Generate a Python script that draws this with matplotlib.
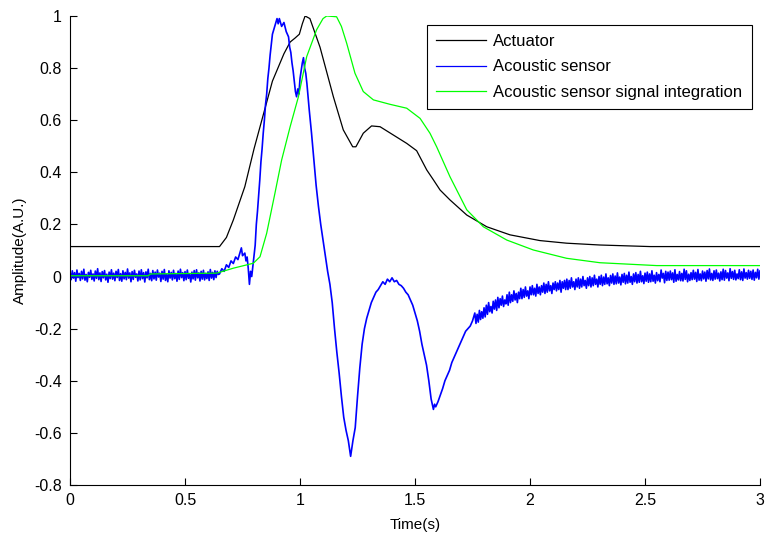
import numpy as np
import matplotlib
matplotlib.use("Agg")
import matplotlib.pyplot as plt
from matplotlib.ticker import FormatStrFormatter

plt.rcParams['font.family'] = ['Liberation Sans', 'DejaVu Sans']

# --- Actuator (black) ---
act_t = [0.0, 0.65, 0.68, 0.71, 0.76, 0.80, 0.84, 0.88, 0.93, 0.957, 0.978, 0.997,
         1.01, 1.022, 1.043, 1.087, 1.145, 1.188, 1.229, 1.243, 1.275, 1.311,
         1.348, 1.406, 1.464, 1.507, 1.551, 1.58, 1.609, 1.652, 1.725, 1.812,
         1.913, 2.043, 2.159, 2.304, 2.522, 3.0]
act_v = [0.115, 0.115, 0.15, 0.217, 0.345, 0.49, 0.62, 0.75, 0.855, 0.90, 0.915, 0.93,
         0.97, 1.0, 0.99, 0.88, 0.69, 0.563, 0.498, 0.498, 0.55, 0.578,
         0.575, 0.543, 0.511, 0.483, 0.409, 0.371, 0.332, 0.294, 0.236, 0.191,
         0.16, 0.138, 0.128, 0.121, 0.115, 0.115]

# --- Acoustic sensor signal integration (green) ---
int_t = [0.0, 0.34, 0.35, 0.638, 0.71, 0.797, 0.826, 0.855, 0.891, 0.92, 0.957,
         0.993, 1.029, 1.072, 1.10, 1.116, 1.159, 1.18, 1.203, 1.239, 1.275, 1.319,
         1.391, 1.464, 1.522, 1.565, 1.594, 1.652, 1.725, 1.797, 1.899, 2.014,
         2.159, 2.304, 2.551, 3.0]
int_v = [0.003, 0.003, 0.01, 0.013, 0.032, 0.051, 0.076, 0.166, 0.32, 0.447, 0.575,
         0.69, 0.844, 0.947, 0.99, 1.0, 0.997, 0.96, 0.895, 0.78, 0.71, 0.678,
         0.661, 0.646, 0.607, 0.55, 0.498, 0.383, 0.256, 0.191, 0.14, 0.102,
         0.07, 0.053, 0.042, 0.042]

# --- Acoustic sensor (blue) ---
# noisy baseline, sampled every 0.005 s from 0 to 0.645
sens_start = [0.018, -0.012, 0.022, -0.006, 0.015, -0.018, 0.025, -0.004, 0.012, -0.015,
              0.02, -0.009, 0.028, -0.014, 0.008, -0.02, 0.016, -0.003, 0.024, -0.011,
              0.01, -0.017, 0.021, -0.007, 0.03, -0.012, 0.014, -0.019, 0.019, -0.005,
              0.023, -0.013, 0.009, -0.022, 0.017, -0.008, 0.026, -0.01, 0.013, -0.016,
              0.02, -0.004, 0.027, -0.015, 0.011, -0.018, 0.022, -0.009, 0.016, -0.012,
              0.029, -0.006, 0.014, -0.02, 0.019, -0.011, 0.024, -0.003, 0.01, -0.017,
              0.021, -0.013, 0.026, -0.008, 0.015, -0.021, 0.018, -0.005, 0.028, -0.012,
              0.012, -0.016, 0.023, -0.009, 0.017, -0.014, 0.025, -0.002, 0.013, -0.019,
              0.02, -0.01, 0.027, -0.015, 0.009, -0.02, 0.022, -0.006, 0.016, -0.013,
              0.024, -0.008, 0.012, -0.018, 0.021, -0.011, 0.028, -0.004, 0.015, -0.016,
              0.019, -0.012, 0.025, -0.007, 0.011, -0.021, 0.017, -0.009, 0.023, -0.014,
              0.026, -0.005, 0.014, -0.017, 0.02, -0.01, 0.024, -0.013, 0.012, -0.008,
              0.018, -0.015, 0.027, -0.006, 0.016, -0.012, 0.022, -0.004, 0.02, 0.008]
# main pulse, read point by point
sens_mid_t = [0.65, 0.66, 0.67, 0.68, 0.69, 0.70, 0.71, 0.72, 0.73, 0.74, 0.745, 0.75,
              0.76, 0.765, 0.77, 0.775, 0.78, 0.785, 0.79, 0.80, 0.805, 0.81, 0.815,
              0.82, 0.825, 0.83, 0.835, 0.84, 0.845, 0.85, 0.855, 0.86, 0.865, 0.87,
              0.875, 0.88, 0.89, 0.90, 0.905, 0.91, 0.92, 0.93, 0.94, 0.95, 0.955,
              0.96, 0.965, 0.97, 0.975, 0.98, 0.985, 0.99, 0.995, 1.0, 1.005, 1.01,
              1.015, 1.02, 1.025, 1.03, 1.04, 1.05, 1.06, 1.07, 1.08, 1.09, 1.10,
              1.11, 1.12, 1.13, 1.14, 1.15, 1.16, 1.17, 1.18, 1.19, 1.20, 1.21,
              1.215, 1.22, 1.225, 1.23, 1.24, 1.25, 1.26, 1.27, 1.28, 1.29, 1.30,
              1.31, 1.32, 1.33, 1.34, 1.35, 1.36, 1.37, 1.38, 1.39, 1.40, 1.41,
              1.42, 1.43, 1.44, 1.45, 1.46, 1.47, 1.48, 1.49, 1.50, 1.51, 1.52,
              1.53, 1.54, 1.55, 1.56, 1.57, 1.575, 1.58, 1.585, 1.59, 1.60, 1.61,
              1.62, 1.63, 1.64, 1.65, 1.66, 1.67, 1.68, 1.69, 1.70, 1.71, 1.72,
              1.73, 1.74, 1.75]
sens_mid_v = [0.01, 0.03, 0.02, 0.045, 0.035, 0.06, 0.05, 0.075, 0.065, 0.095, 0.11, 0.08,
              0.09, 0.06, 0.075, 0.03, -0.03, 0.02, 0.0, 0.08, 0.12, 0.2, 0.25,
              0.31, 0.37, 0.44, 0.49, 0.55, 0.60, 0.66, 0.70, 0.76, 0.80, 0.85,
              0.89, 0.93, 0.96, 0.99, 0.97, 0.99, 0.96, 0.975, 0.94, 0.92, 0.88,
              0.86, 0.82, 0.79, 0.75, 0.71, 0.69, 0.72, 0.70, 0.76, 0.79, 0.82,
              0.84, 0.80, 0.78, 0.74, 0.64, 0.55, 0.45, 0.35, 0.27, 0.20, 0.14,
              0.08, 0.02, -0.03, -0.10, -0.20, -0.29, -0.37, -0.46, -0.54, -0.59, -0.63,
              -0.66, -0.69, -0.66, -0.63, -0.58, -0.46, -0.35, -0.26, -0.20, -0.16, -0.13,
              -0.10, -0.08, -0.06, -0.05, -0.035, -0.02, -0.03, -0.01, -0.02, -0.005, -0.02,
              -0.015, -0.03, -0.035, -0.045, -0.06, -0.07, -0.09, -0.11, -0.14, -0.17, -0.21,
              -0.26, -0.30, -0.34, -0.40, -0.47, -0.49, -0.51, -0.49, -0.50, -0.48, -0.455,
              -0.43, -0.40, -0.38, -0.36, -0.33, -0.31, -0.29, -0.27, -0.25, -0.23, -0.21,
              -0.20, -0.19, -0.17]
# noisy tail, sampled every 0.005 s from 1.76 on
sens_end = [-0.14, -0.18, -0.145, -0.175, -0.13, -0.165, -0.135, -0.16, -0.12, -0.155,
            -0.11, -0.145, -0.1, -0.135, -0.115, -0.14, -0.095, -0.125, -0.09, -0.13,
            -0.08, -0.12, -0.085, -0.11, -0.075, -0.115, -0.09, -0.105, -0.07, -0.11,
            -0.06, -0.1, -0.07, -0.095, -0.055, -0.09, -0.065, -0.1, -0.06, -0.085,
            -0.045, -0.085, -0.05, -0.08, -0.04, -0.075, -0.055, -0.085, -0.04, -0.07,
            -0.035, -0.07, -0.045, -0.075, -0.03, -0.065, -0.04, -0.07, -0.035, -0.06,
            -0.025, -0.065, -0.03, -0.06, -0.02, -0.055, -0.035, -0.065, -0.025, -0.05,
            -0.02, -0.055, -0.025, -0.05, -0.015, -0.06, -0.02, -0.045, -0.015, -0.05,
            -0.01, -0.05, -0.015, -0.045, -0.005, -0.04, -0.02, -0.05, -0.01, -0.04,
            -0.005, -0.045, -0.01, -0.04, 0.0, -0.035, -0.015, -0.045, -0.005, -0.035,
            0.0, -0.04, -0.005, -0.035, 0.005, -0.03, -0.01, -0.04, 0.0, -0.03,
            0.005, -0.035, -0.002, -0.03, 0.01, -0.028, -0.005, -0.035, 0.004, -0.025,
            0.01, -0.03, 0.002, -0.028, 0.014, -0.025, -0.002, -0.032, 0.008, -0.022,
            0.012, -0.028, 0.005, -0.025, 0.017, -0.022, 0.0, -0.03, 0.01, -0.02,
            0.015, -0.025, 0.008, -0.022, 0.02, -0.02, 0.003, -0.027, 0.013, -0.018,
            0.017, -0.022, 0.01, -0.02, 0.022, -0.018, 0.005, -0.025, 0.015, -0.016,
            0.008, -0.02, 0.025, -0.006, 0.012, -0.024, 0.02, -0.015, 0.017, -0.014,
            0.021, -0.012, 0.014, -0.022, 0.026, -0.018, 0.008, -0.013, 0.019, -0.016,
            0.012, -0.017, 0.028, -0.011, 0.022, -0.02, 0.009, -0.015, 0.015, -0.012,
            0.024, -0.01, 0.016, -0.019, 0.027, -0.014, 0.01, -0.016, 0.021, -0.009,
            0.017, -0.018, 0.023, -0.009, 0.029, -0.013, 0.012, -0.015, 0.022, -0.01,
            0.025, -0.008, 0.013, -0.017, 0.018, -0.012, 0.028, -0.014, 0.023, -0.006,
            0.014, -0.016, 0.03, -0.007, 0.019, -0.011, 0.024, -0.013, 0.01, -0.008,
            0.026, -0.012, 0.018, -0.015, 0.029, -0.006, 0.015, -0.01, 0.024, -0.007,
            0.02, -0.011, 0.025, -0.014, 0.016, -0.005, 0.028, -0.01, 0.023, 0.008]

sens_t = np.concatenate([np.arange(len(sens_start)) * 0.005,
                         sens_mid_t,
                         1.76 + np.arange(len(sens_end)) * 0.005])
sens_v = np.concatenate([sens_start, sens_mid_v, sens_end])

x_ticks = [0, 0.5, 1, 1.5, 2, 2.5, 3]
y_ticks = [-0.8, -0.6, -0.4, -0.2, 0, 0.2, 0.4, 0.6, 0.8, 1]

fig = plt.figure(figsize=(7.67, 5.40), dpi=100)
ax = fig.add_axes([0.0913, 0.1019, 0.8996, 0.8685])

ax.plot(act_t, act_v, color='black', linewidth=0.9, label='Actuator')
ax.plot(sens_t, sens_v, color='#0000ff', linewidth=1.2, label='Acoustic sensor')
ax.plot(int_t, int_v, color='#00ff00', linewidth=0.9, label='Acoustic sensor signal integration')

ax.set_xlim(0, 3)
ax.set_ylim(-0.8, 1)
ax.set_xticks(x_ticks)
ax.set_yticks(y_ticks)
ax.xaxis.set_major_formatter(FormatStrFormatter('%g'))
ax.yaxis.set_major_formatter(FormatStrFormatter('%g'))
ax.tick_params(direction='in', length=5, width=0.8, labelsize=11.5, pad=6)
ax.spines['top'].set_visible(False)
ax.spines['right'].set_visible(False)

ax.set_xlabel('Time(s)', fontsize=11, labelpad=7)
ax.set_ylabel('Amplitude(A.U.)', fontsize=11, labelpad=5)

leg = ax.legend(loc='upper right', bbox_to_anchor=(0.988, 0.981), fontsize=12,
                frameon=True, fancybox=False, edgecolor='black', framealpha=1,
                borderaxespad=0, handlelength=3.0, handletextpad=0.42,
                labelspacing=0.62, borderpad=0.55)
leg.get_frame().set_linewidth(0.8)
for line in leg.get_lines():
    line.set_linewidth(0.9)

fig.savefig('out.png', dpi=100)
